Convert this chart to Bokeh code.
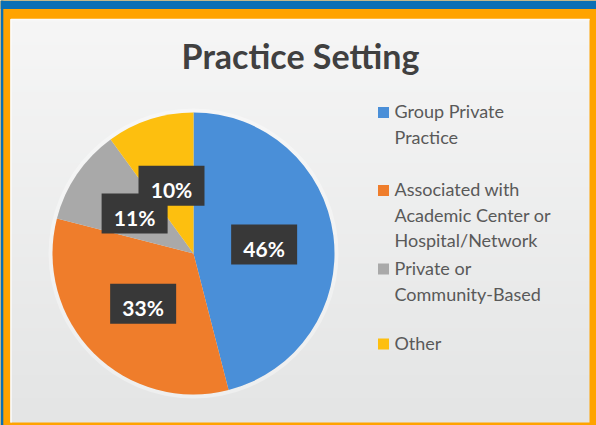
import numpy as np
from bokeh.plotting import figure
from bokeh.models import Range1d, ColumnDataSource
from bokeh.core.properties import value
from bokeh.embed import file_html
from bokeh.resources import INLINE

# ---- data ----
title_text = "Practice Setting"
categories = ["Group Private\nPractice",
              "Associated with\nAcademic Center or\nHospital/Network",
              "Private or\nCommunity-Based",
              "Other"]
shares = [46, 33, 11, 10]
labels = ["46%", "33%", "11%", "10%"]
colors = ["#4a8fd8", "#ef7d2b", "#a9a9a9", "#fdbf0f"]

# ---- layout helpers (page px -> figure data units) ----
W, H = 596, 425
def X(px):
    return px
def Y(py):
    return H - py

p = figure(width=W, height=H, x_range=Range1d(0, W), y_range=Range1d(0, H),
           output_backend="svg", toolbar_location=None, min_border=0)
p.axis.visible = False
p.grid.visible = False
p.outline_line_color = None
p.background_fill_color = "#ffa300"
p.border_fill_color = "#ffa300"

# outer blue edges
p.quad(left=0, right=W, top=H, bottom=Y(8.4), fill_color="#0a6fb5", line_color=None)
p.quad(left=0, right=2.8, top=H, bottom=0, fill_color="#0a6fb5", line_color=None)

# interior panel with soft vertical gradient
x0, x1 = X(10), X(589)
ytop, ybot = Y(18.5), Y(422)
n = 120
img = np.empty((n, 1), dtype=np.uint32)
view = img.view(dtype=np.uint8).reshape((n, 1, 4))
top_c = np.array([246, 246, 246], dtype=float)
bot_c = np.array([228, 229, 229], dtype=float)
for i in range(n):
    t = i / (n - 1)
    view[i, 0, :3] = (bot_c + (top_c - bot_c) * t).astype(np.uint8)
    view[i, 0, 3] = 255
p.image_rgba(image=[img], x=x0, y=ybot, dw=x1 - x0, dh=ytop - ybot)
p.line(x=[x0 + 0.5, x0 + 0.5, x1], y=[ybot, ytop - 0.5, ytop - 0.5],
       line_color="#fbfbfb", line_width=1.5)

# ---- pie ----
cx, cy, r = X(193), Y(253), 141
frac = np.array(shares, dtype=float) / sum(shares)
cum = np.concatenate([[0.0], np.cumsum(frac)])
start = np.pi / 2 - cum[:-1] * 2 * np.pi
end = np.pi / 2 - cum[1:] * 2 * np.pi
mid = np.pi / 2 - (cum[:-1] + frac / 2) * 2 * np.pi
lx = cx + 0.505 * r * np.cos(mid)
ly = cy + 0.505 * r * np.sin(mid)

src = ColumnDataSource(dict(start=start, end=end, color=colors,
                            lx=lx, ly=ly, ty=ly - 4, label=labels))
p.annulus(x=cx, y=cy, inner_radius=r, outer_radius=r + 4,
          fill_color="white", fill_alpha=0.35, line_color=None)
p.wedge(x=cx, y=cy, radius=r, start_angle="start", end_angle="end",
        direction="clock", fill_color="color", line_color=None, source=src)

# data label boxes
p.rect(x="lx", y="ly", width=66, height=40, fill_color="#383838",
       line_color=None, source=src)
p.text(x="lx", y="ty", text="label", text_align="center", text_baseline="middle",
       text_font=value("Lato"), text_font_style="bold", text_font_size="21px",
       text_color="white", source=src)

# ---- title ----
p.text(x=[X(300)], y=[Y(55)], text=[title_text], text_align="center",
       text_baseline="alphabetic", text_font=value("Lato"), text_font_style="bold",
       text_font_size="34px", text_color="#404040")

# ---- legend ----
marker_centers = [112, 190, 268.5, 343.5]
first_baselines = [110.5, 188.5, 267.5, 342.5]
line_gap = 25.5
mk_x, mk_y = [], []
tx, ty, tt = [], [], []
for cat, b, m in zip(categories, first_baselines, marker_centers):
    mk_x.append(X(383))
    mk_y.append(Y(m))
    for j, ln in enumerate(cat.split("\n")):
        tx.append(X(394))
        ty.append(Y(b + j * line_gap))
        tt.append(ln)
p.rect(x=mk_x, y=mk_y, width=11, height=11, fill_color=colors, line_color=None)
p.text(x=tx, y=ty, text=tt, text_align="left", text_baseline="alphabetic",
       text_font=value("Lato"), text_font_size="18px", text_color="#595959")

open("out.html", "w").write(file_html(p, INLINE))
